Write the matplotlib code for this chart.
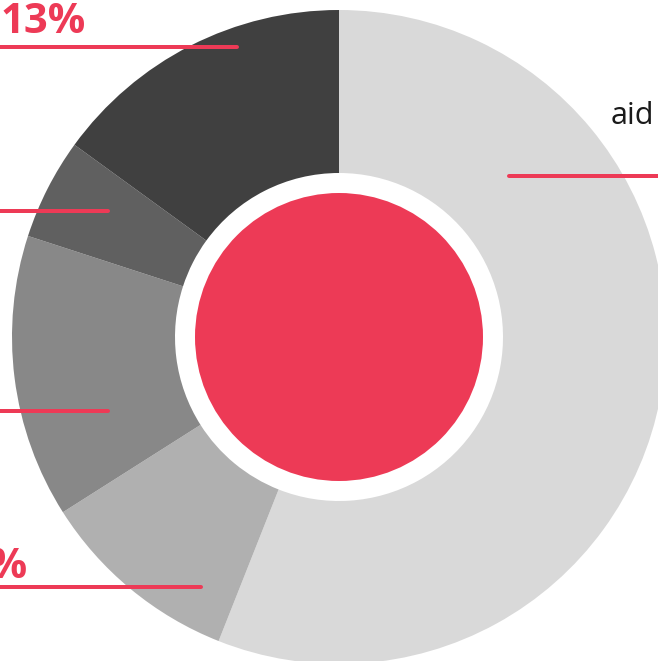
import matplotlib
matplotlib.use("Agg")
import matplotlib.pyplot as plt
from matplotlib.patches import Circle

# Data (clockwise from top)
categories = ["aid", "b", "c", "d", "e"]
values = [56, 10, 14, 5, 15]
colors = ["#d9d9d9", "#b0b0b0", "#888888", "#606060", "#404040"]
pct_labels = ["", "10%", "14%", "5%", "13%"]

RED = "#ed3a56"
W, H = 658, 661

fig = plt.figure(figsize=(W / 100, H / 100), dpi=100)
ax = fig.add_axes([0, 0, 1, 1])

cx, cy = 339, H - 337
R = 327
ax.pie(values, colors=colors, startangle=90, counterclock=False,
       center=(cx, cy), radius=R,
       wedgeprops=dict(width=R - 164, linewidth=0))
ax.add_patch(Circle((cx, cy), 144, color=RED, lw=0, zorder=5))

ax.set_xlim(0, W)
ax.set_ylim(0, H)
ax.set_aspect("equal")
ax.axis("off")

lw = 4 * 72 / 100
# leader lines (pixel coords -> y flipped)
leaders = [
    (509, 700, 176),   # aid
    (-50, 201, 587),   # 10%
    (-50, 108, 411),   # 14%
    (-50, 108, 211),   # 5%
    (-50, 237, 47),    # 13%
]
for x0, x1, y in leaders:
    ax.plot([x0, x1], [H - y, H - y], color=RED, lw=lw,
            solid_capstyle="round", zorder=6, clip_on=True)

ax.text(611, H - 124, categories[0], fontsize=22, family="Open Sans",
        color="#1a1a1a", ha="left", va="baseline")
ax.text(1, H - 33, pct_labels[4], fontsize=30, family="Open Sans",
        fontweight="bold", color=RED, ha="left", va="baseline")
ax.text(28, H - 578, pct_labels[1], fontsize=30, family="Open Sans",
        fontweight="bold", color=RED, ha="right", va="baseline")

fig.savefig("out.png", dpi=100)
